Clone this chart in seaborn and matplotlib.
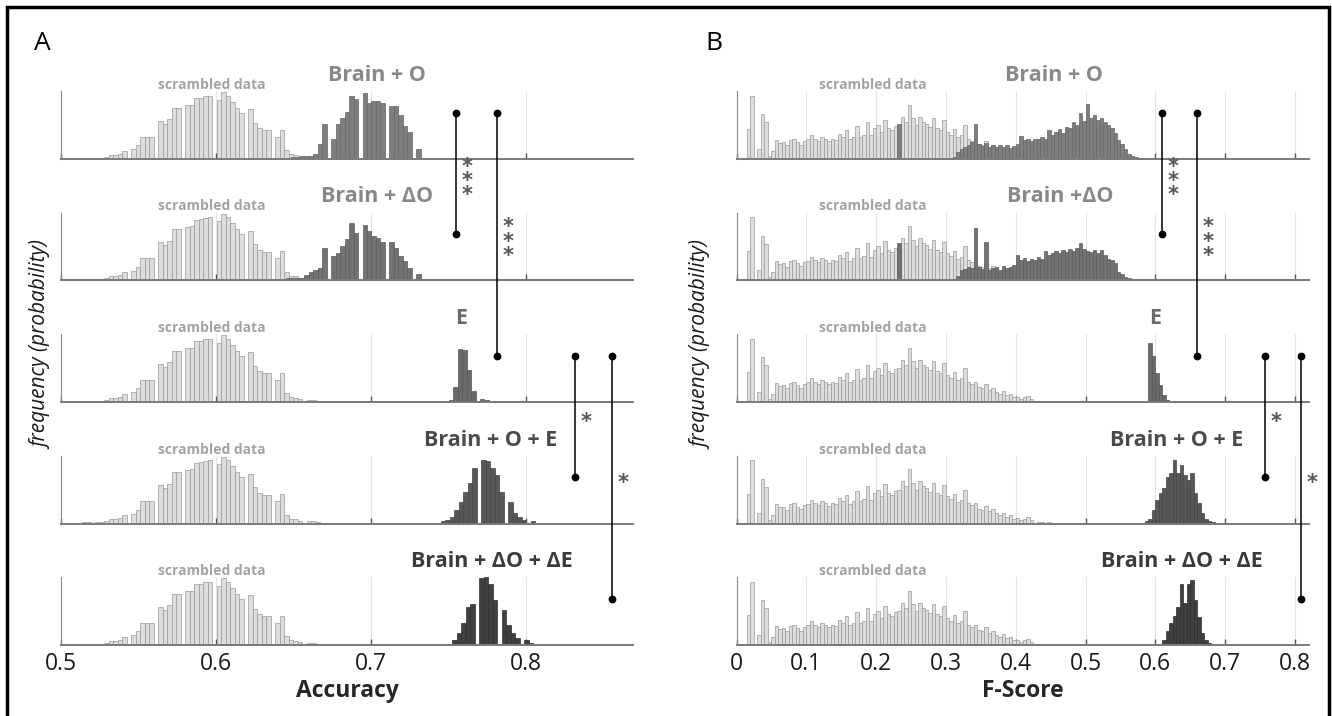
"""
Null distributions (scrambled data) vs. model distributions of Accuracy and F-Score,
five models stacked as small histograms.
"""
from __future__ import annotations

import matplotlib

matplotlib.use("Agg")
import matplotlib.pyplot as plt
import matplotlib.transforms as mtransforms
import numpy as np
import pandas as pd
import seaborn as sns
from matplotlib.lines import Line2D

FIG_W_PX, FIG_H_PX = 1332, 716
DPI = 100

# ---------------- data ----------------
ROW_NAMES_ACC = ["Brain + O", "Brain + ΔO", "E", "Brain + O + E", "Brain + ΔO + ΔE"]
ROW_NAMES_F = ["Brain + O", "Brain +ΔO", "E", "Brain + O + E", "Brain + ΔO + ΔE"]

ACC_TICKS = [0.5, 0.6, 0.7, 0.8]
ACC_TICKLABELS = ["0.5", "0.6", "0.7", "0.8"]
F_TICKS = [0, 0.1, 0.2, 0.3, 0.4, 0.5, 0.6, 0.7, 0.8]
F_TICKLABELS = ["0", "0.1", "0.2", "0.3", "0.4", "0.5", "0.6", "0.7", "0.8"]

# accuracy histograms (bin width 0.0029), heights relative to row height
ACC_BIN = 0.0029
acc_scrambled_start = 0.5135
acc_scrambled = [
    0.015, 0.015, 0.0, 0.02, 0.02, 0.03, 0.06, 0.065, 0.08, 0.12,
    0.0, 0.14, 0.2, 0.33, 0.33, 0.33, 0.0, 0.56, 0.52, 0.585,
    0.755, 0.755, 0.0, 0.79, 0.8, 0.895, 0.9, 0.92, 0.93, 0.0,
    0.875, 0.985, 0.93, 0.84, 0.755, 0.68, 0.0, 0.73, 0.53, 0.45,
    0.42, 0.42, 0.0, 0.33, 0.43, 0.13, 0.07, 0.06, 0.04, 0.0,
    0.035, 0.035, 0.015, 0.01, 0.0, 0.0, 0.005, 0.005, 0.005, 0.005,
]
acc_brain_o_start = 0.6423
acc_brain_o = [
    0.02, 0.02, 0.03, 0.03, 0.04, 0.04, 0.05, 0.08, 0.22, 0.52,
    0.0, 0.30, 0.51, 0.60, 0.69, 0.93, 0.88, 0.0, 0.97, 0.82,
    0.86, 0.86, 0.82, 0.0, 0.78, 0.78, 0.65, 0.49, 0.40, 0.0,
    0.14, 0.02,
]
acc_brain_do_start = 0.6423
acc_brain_do = [
    0.02, 0.03, 0.03, 0.04, 0.04, 0.08, 0.12, 0.15, 0.18, 0.48,
    0.0, 0.36, 0.40, 0.51, 0.61, 0.85, 0.70, 0.0, 0.82, 0.73,
    0.65, 0.62, 0.57, 0.0, 0.56, 0.48, 0.36, 0.28, 0.18, 0.0,
    0.10, 0.02,
]
acc_e_start = 0.7500
acc_e = [0.03, 0.22, 0.78, 0.76, 0.47, 0.16, 0.0, 0.04, 0.025]
acc_brain_o_e_start = 0.7450
acc_brain_o_e = [
    0.035, 0.05, 0.09, 0.2, 0.31, 0.46, 0.6, 0.82, 0.0, 0.94,
    0.92, 0.82, 0.72, 0.47, 0.0, 0.32, 0.15, 0.09, 0.05, 0.0,
    0.04, 0.01,
]
acc_brain_do_de_start = 0.7496
acc_brain_do_de = [
    0.02, 0.07, 0.17, 0.32, 0.56, 0.6, 0.0, 0.98, 1.0, 0.9,
    0.66, 0.0, 0.51, 0.29, 0.17, 0.1, 0.0, 0.07, 0.03, 0.015,
]

# F-score histograms (bin width 0.005)
F_BIN = 0.005
f_scrambled_start = 0.015
f_scrambled = [
    0.44, 0.93, 0.0, 0.15, 0.66, 0.54, 0.05, 0.12, 0.28, 0.24,
    0.25, 0.2, 0.28, 0.3, 0.25, 0.21, 0.27, 0.29, 0.35, 0.3,
    0.27, 0.33, 0.3, 0.26, 0.3, 0.28, 0.37, 0.33, 0.42, 0.29,
    0.33, 0.48, 0.33, 0.36, 0.55, 0.35, 0.45, 0.5, 0.4, 0.58,
    0.45, 0.42, 0.48, 0.5, 0.62, 0.55, 0.8, 0.6, 0.5, 0.62,
    0.55, 0.52, 0.47, 0.6, 0.45, 0.42, 0.57, 0.4, 0.36, 0.44,
    0.32, 0.35, 0.5, 0.3, 0.27, 0.3, 0.22, 0.2, 0.26, 0.18,
    0.21, 0.15, 0.12, 0.16, 0.1, 0.12, 0.07, 0.08, 0.05, 0.07,
    0.09, 0.05, 0.01, 0.02, 0.02, 0.01, 0.015, 0.01, 0.01, 0.008,
    0.008,
]
f_brain_o_start = 0.230
f_brain_o = [
    0.52, 0, 0, 0, 0, 0, 0, 0, 0, 0, 0, 0, 0, 0, 0, 0,
    0.03, 0.10, 0.15, 0.18, 0.20, 0.25, 0.52, 0.22, 0.19, 0.23,
    0.18, 0.20, 0.17, 0.21, 0.18, 0.20, 0.16, 0.19, 0.22, 0.34,
    0.28, 0.30, 0.27, 0.30, 0.29, 0.33, 0.30, 0.42, 0.36, 0.40,
    0.44, 0.38, 0.47, 0.45, 0.55, 0.50, 0.67, 0.56, 0.81, 0.60,
    0.64, 0.58, 0.60, 0.55, 0.50, 0.45, 0.38, 0.28, 0.22, 0.15,
    0.08, 0.05, 0.03, 0.01,
]
f_brain_do_start = 0.230
f_brain_do = [
    0.55, 0, 0, 0, 0, 0, 0, 0, 0, 0, 0, 0, 0, 0, 0, 0,
    0.02, 0.07, 0.15, 0.17, 0.20, 0.18, 0.77, 0.20, 0.17, 0.56,
    0.15, 0.18, 0.20, 0.16, 0.22, 0.19, 0.20, 0.23, 0.38, 0.30,
    0.33, 0.28, 0.31, 0.30, 0.34, 0.32, 0.43, 0.38, 0.40, 0.44,
    0.41, 0.45, 0.42, 0.47, 0.44, 0.48, 0.55, 0.46, 0.44, 0.42,
    0.45, 0.40, 0.45, 0.38, 0.32, 0.30, 0.25, 0.13, 0.10, 0.05,
    0.03, 0.01,
]
f_e_start = 0.585
f_e = [0.02, 0.87, 0.67, 0.42, 0.25, 0.1, 0.03]
f_brain_o_e_start = 0.585
f_brain_o_e = [
    0.03, 0.06, 0.2, 0.35, 0.45, 0.52, 0.68, 0.75, 0.93, 0.75,
    0.86, 0.72, 0.64, 0.74, 0.45, 0.3, 0.15, 0.06, 0.03, 0.015,
]
f_brain_do_de_start = 0.605
f_brain_do_de = [
    0.02, 0.08, 0.2, 0.32, 0.42, 0.56, 0.9, 0.62, 0.9, 0.95,
    0.66, 0.41, 0.17, 0.07, 0.03, 0.02, 0.01,
]

# significance brackets: x position, (row from, row to), label
acc_sig_x = [0.7546, 0.7811, 0.8313, 0.8557]
f_sig_x = [0.609, 0.660, 0.757, 0.808]
sig_rows = [(0, 1), (0, 2), (2, 3), (2, 4)]
sig_labels = ["***", "***", "*", "*"]

# ---------------- style ----------------
SCR_FACE, SCR_EDGE = "#dddddd", "#9a9a9a"
DARK_FACE = ["#7e7e7e", "#727272", "#6a6a6a", "#575757", "#404040"]
DARK_EDGE = ["#666666", "#5c5c5c", "#555555", "#444444", "#2e2e2e"]
TITLE_COLORS = ["#888888", "#888888", "#6a6a6a", "#4a4a4a", "#3a3a3a"]

ROW_TOP0_PX, ROW_STEP_PX, ROW_H_PX = 91, 121.5, 68
DOT_FRAC = 0.68
STAR_SIZE = 15
STAR_PITCH_PX = 15.5


def make_row_axes(fig, left_px, width_px, i):
    top = ROW_TOP0_PX + ROW_STEP_PX * i
    return fig.add_axes(
        [left_px / FIG_W_PX, 1 - (top + ROW_H_PX) / FIG_H_PX,
         width_px / FIG_W_PX, ROW_H_PX / FIG_H_PX]
    )


def draw_hist(ax, start, width, heights, face, edge, lw=0.5):
    heights = np.asarray(heights, dtype=float)
    n = len(heights)
    centers = start + width * (np.arange(n) + 0.5)
    df = pd.DataFrame({"value": centers, "weight": heights})
    sns.histplot(
        data=df, x="value", weights="weight", bins=n,
        binrange=(start, start + n * width), ax=ax,
        color=face, edgecolor=edge, linewidth=lw, alpha=1.0,
    )


def style_row(ax, xlim, ticks, ticklabels, bottom):
    ax.set_xlim(*xlim)
    ax.set_ylim(0, 1.0)
    ax.set_yticks([])
    ax.set_xticks(ticks)
    ax.set_xticklabels(ticklabels)
    ax.set_ylabel("")
    ax.set_xlabel("")
    ax.set_axisbelow(True)
    ax.grid(axis="x", color="#e4e4e4", linewidth=0.8)
    ax.grid(axis="y", visible=False)
    for s in ["top", "right"]:
        ax.spines[s].set_visible(False)
    ax.spines["left"].set_color("#8a8a8a")
    ax.spines["left"].set_linewidth(0.8)
    ax.spines["bottom"].set_color("#7a7a7a")
    ax.spines["bottom"].set_linewidth(1.4)
    ax.tick_params(axis="x", direction="in", length=4, width=1, color="#555555",
                   labelsize=16.5, labelcolor="#1a1a1a", pad=5, labelbottom=bottom,
                   bottom=True)
    ax.patch.set_alpha(0)


def fig_point(ax, x, frac):
    dx = ax.transData.transform((x, 0))[0]
    dy = ax.transAxes.transform((0, frac))[1]
    return dx, dy


def draw_panel(fig, left_px, width_px, xlim, ticks, ticklabels, scr_start, scr, bin_w,
               models, names, title_x, scr_x, sig_x, xlabel):
    axes = []
    for i, (start, heights) in enumerate(models):
        ax = make_row_axes(fig, left_px, width_px, i)
        draw_hist(ax, scr_start, bin_w, scr, SCR_FACE, SCR_EDGE)
        draw_hist(ax, start, bin_w, heights, DARK_FACE[i], DARK_EDGE[i])
        style_row(ax, xlim, ticks, ticklabels, bottom=(i == len(models) - 1))
        tr = mtransforms.blended_transform_factory(ax.transData, ax.transAxes)
        ax.text(title_x[i], 1 + 10 / ROW_H_PX, names[i], transform=tr, ha="center",
                va="baseline", fontsize=15.5, fontweight="bold", color=TITLE_COLORS[i])
        ax.text(scr_x, 1 + 2 / ROW_H_PX, "scrambled data", transform=tr, ha="center",
                va="baseline", fontsize=10, fontweight="bold", color="#a3a3a3")
        axes.append(ax)
    axes[-1].set_xlabel(xlabel, fontsize=16.5, fontweight="bold", labelpad=2)

    to_fig = fig.transFigure.inverted()
    em_px = STAR_SIZE * DPI / 72
    # line spacing chosen so that stacked asterisks are STAR_PITCH_PX apart
    ls = STAR_PITCH_PX / (1.17 * em_px)
    for x, (r0, r1), lab in zip(sig_x, sig_rows, sig_labels):
        p0 = fig_point(axes[r0], x, DOT_FRAC)
        p1 = fig_point(axes[r1], x, DOT_FRAC)
        f0, f1 = to_fig.transform(p0), to_fig.transform(p1)
        fig.add_artist(Line2D([f0[0], f1[0]], [f0[1], f1[1]], color="black", lw=1.1,
                              marker="o", markersize=4.6, transform=fig.transFigure))
        mid = (p0[1] + p1[1]) / 2
        n = len(lab)
        # baseline of the lowest asterisk, glyph centre sits ~0.575 em above baseline
        base = mid - (n - 1) / 2 * STAR_PITCH_PX - 0.575 * em_px
        pos = to_fig.transform((p0[0] + 11, base))
        fig.text(pos[0], pos[1], "\n".join("*" * n), ha="center", va="baseline",
                 multialignment="center", linespacing=ls, fontsize=STAR_SIZE,
                 fontweight="bold", color="#555555", family="DejaVu Sans")
    return axes


def main():
    sns.set_theme(style="white")
    plt.rcParams["font.family"] = ["Open Sans", "DejaVu Sans"]

    fig = plt.figure(figsize=(FIG_W_PX / DPI, FIG_H_PX / DPI), dpi=DPI)

    acc_models = [
        (acc_brain_o_start, acc_brain_o),
        (acc_brain_do_start, acc_brain_do),
        (acc_e_start, acc_e),
        (acc_brain_o_e_start, acc_brain_o_e),
        (acc_brain_do_de_start, acc_brain_do_de),
    ]
    f_models = [
        (f_brain_o_start, f_brain_o),
        (f_brain_do_start, f_brain_do),
        (f_e_start, f_e),
        (f_brain_o_e_start, f_brain_o_e),
        (f_brain_do_de_start, f_brain_do_de),
    ]

    draw_panel(fig, 61, 572, (0.5, 0.869), ACC_TICKS, ACC_TICKLABELS,
               acc_scrambled_start, acc_scrambled, ACC_BIN, acc_models, ROW_NAMES_ACC,
               [0.704, 0.704, 0.758, 0.777, 0.778], 0.597, acc_sig_x, "Accuracy")
    draw_panel(fig, 736.5, 572.5, (0.0, 0.82), F_TICKS, F_TICKLABELS,
               f_scrambled_start, f_scrambled, F_BIN, f_models, ROW_NAMES_F,
               [0.455, 0.463, 0.600, 0.631, 0.638], 0.195, f_sig_x, "F-Score")

    for x_px, letter in [(34, "A"), (705, "B")]:
        fig.text(x_px / FIG_W_PX, 1 - 44 / FIG_H_PX, letter, fontsize=19,
                 ha="left", va="center", color="black")
    for x_px in [42, 702]:
        fig.text(x_px / FIG_W_PX, 1 - 345 / FIG_H_PX, "frequency (probability)",
                 rotation=90, fontsize=15, style="italic", ha="center", va="center",
                 color="#1a1a1a")

    # outer frame (left, top, right)
    lx, rx, ty = 6.5 / FIG_W_PX, 1329 / FIG_W_PX, 1 - 7 / FIG_H_PX
    fig.add_artist(Line2D([lx, lx, rx, rx], [0, ty, ty, 0], color="black", lw=2.5,
                          transform=fig.transFigure, solid_joinstyle="miter"))

    fig.savefig("out.png", dpi=DPI, facecolor="white")
    plt.close(fig)


if __name__ == "__main__":
    main()
